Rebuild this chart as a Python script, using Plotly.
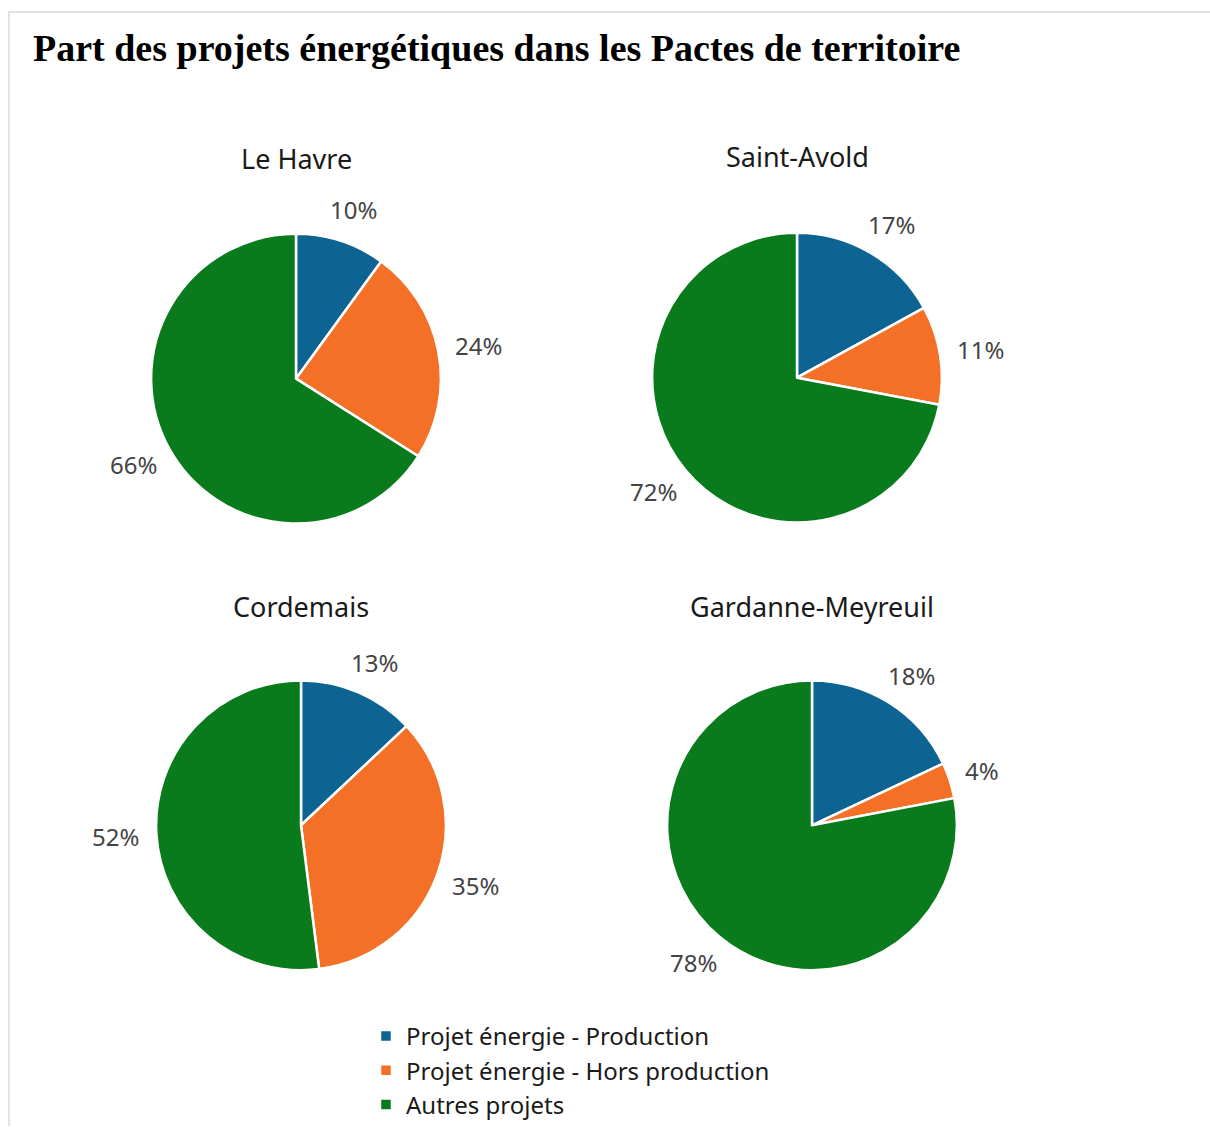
import math
import plotly.graph_objects as go

# Data
categories = ["Projet énergie - Production", "Projet énergie - Hors production", "Autres projets"]
territories = ["Le Havre", "Saint-Avold", "Cordemais", "Gardanne-Meyreuil"]
le_havre = [10, 24, 66]
saint_avold = [17, 11, 72]
cordemais = [13, 35, 52]
gardanne = [18, 4, 78]
series = [le_havre, saint_avold, cordemais, gardanne]

colors = ["#0d6392", "#f57027", "#0a7b1c"]

W, H = 1210, 1127
R = 145
# pie centers (px) and subtitle positions
centers = [(296, 379), (797, 378), (301, 826), (812, 826)]
title_y = [159, 157, 607, 607]

LABEL_SIZE = 24
LABEL_GAP = 21

fig = go.Figure()

for i, (name, vals) in enumerate(zip(territories, series)):
    cx, cy = centers[i]
    fig.add_trace(go.Pie(
        labels=categories,
        values=vals,
        sort=False,
        direction="clockwise",
        rotation=0,
        textinfo="none",
        hoverinfo="label+percent",
        marker=dict(colors=colors, line=dict(color="white", width=2.5)),
        domain=dict(x=[(cx - R) / W, (cx + R) / W], y=[1 - (cy + R) / H, 1 - (cy - R) / H]),
        showlegend=(i == 0),
        name=name,
    ))
    # subplot title
    fig.add_annotation(
        x=cx / W, y=1 - title_y[i] / H, xref="paper", yref="paper",
        text=name, showarrow=False, xanchor="center", yanchor="middle",
        font=dict(family="Noto Sans", size=27, color="#1a1a1a"),
    )
    # percentage labels placed just outside each slice, at its mid angle,
    # pushed out by half the label box so the text clears the rim
    total = sum(vals)
    cum = 0
    for v in vals:
        mid = (cum + v / 2) / total * 2 * math.pi
        cum += v
        txt = f"{round(v / total * 100)}%"
        half_w = len(txt) * 0.55 * LABEL_SIZE / 2
        half_h = LABEL_SIZE / 2
        s, c = math.sin(mid), math.cos(mid)
        lx = cx + (R + LABEL_GAP) * s + half_w * s
        ly = cy - (R + LABEL_GAP) * c - half_h * c
        fig.add_annotation(
            x=lx / W, y=1 - ly / H, xref="paper", yref="paper",
            text=txt, showarrow=False,
            xanchor="center", yanchor="middle",
            font=dict(family="Noto Sans", size=LABEL_SIZE, color="#444444"),
        )

# frame lines
fig.add_shape(type="line", xref="paper", yref="paper",
              x0=8 / W, x1=1, y0=1 - 12 / H, y1=1 - 12 / H,
              line=dict(color="#e2e2e2", width=2))
fig.add_shape(type="line", xref="paper", yref="paper",
              x0=9 / W, x1=9 / W, y0=0, y1=1 - 12 / H,
              line=dict(color="#e2e2e2", width=2))

fig.update_layout(
    width=W, height=H,
    margin=dict(l=0, r=0, t=0, b=0),
    paper_bgcolor="white",
    plot_bgcolor="white",
    title=dict(
        text="<b>Part des projets énergétiques dans les Pactes de territoire</b>",
        x=33 / W, xanchor="left", y=1 - 48 / H, yanchor="middle",
        font=dict(family="Liberation Serif", size=38, color="black"),
    ),
    legend=dict(
        x=366 / W, xanchor="left", y=1 - 1015 / H, yanchor="top",
        font=dict(family="Noto Sans", size=24, color="#1a1a1a"),
        bgcolor="rgba(0,0,0,0)",
        itemclick=False,
    ),
)

fig.write_html("out.html")
